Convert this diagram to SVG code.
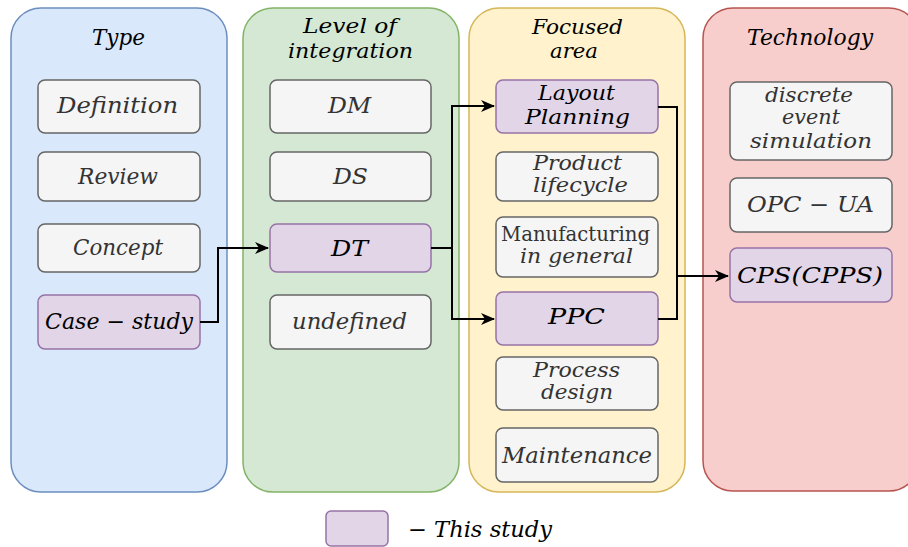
<svg xmlns="http://www.w3.org/2000/svg" width="908" height="547" viewBox="0 0 908 547">
<style>
.t{font-family:"DejaVu Serif","Liberation Serif",serif;font-style:italic;font-size:22px;fill:#000;text-anchor:start}
.s{font-size:20px}
.g{fill:#333333}
.r{font-style:normal}
.box{fill:#f5f5f5;stroke:#666666;stroke-width:1.5}
.pur{fill:#e1d5e7;stroke:#9673a6;stroke-width:1.5}
.con{fill:none;stroke:#000;stroke-width:2}
</style>
<defs>
<marker id="arr" viewBox="0 0 14 12" refX="13" refY="6" markerWidth="14" markerHeight="12" markerUnits="userSpaceOnUse" orient="auto">
<path d="M0,0 L14,6 L0,12 L4,6 Z" fill="#000"/>
</marker>
</defs>
<rect width="908" height="547" fill="#fff"/>
<g id="col-type">
<rect x="11" y="8" width="216" height="484" rx="30" fill="#dae8fc" stroke="#6c8ebf" stroke-width="1.5"/>
<text class="t" x="92" y="45" textLength="53" lengthAdjust="spacingAndGlyphs">Type</text>
</g>
<g id="col-level">
<rect x="243" y="8" width="216" height="484" rx="30" fill="#d5e8d4" stroke="#82b366" stroke-width="1.5"/>
<text class="t s" x="303" y="33" textLength="94" lengthAdjust="spacingAndGlyphs">Level of</text>
<text class="t s" x="288" y="58" textLength="125" lengthAdjust="spacingAndGlyphs">integration</text>
</g>
<g id="col-focus">
<rect x="469" y="8" width="216" height="484" rx="30" fill="#fff2cc" stroke="#d6b656" stroke-width="1.5"/>
<text class="t s" x="532" y="34" textLength="91" lengthAdjust="spacingAndGlyphs">Focused</text>
<text class="t s" x="550" y="58" textLength="48" lengthAdjust="spacingAndGlyphs">area</text>
</g>
<g id="col-tech">
<rect x="703" y="8" width="216" height="483" rx="30" fill="#f8cecc" stroke="#b85450" stroke-width="1.5"/>
<text class="t" x="747" y="45" textLength="126" lengthAdjust="spacingAndGlyphs">Technology</text>
</g>

<g id="n-definition"><rect class="box" x="38" y="80" width="162" height="53" rx="7"/><text class="t g" x="57" y="113" textLength="121" lengthAdjust="spacingAndGlyphs">Definition</text></g>
<g id="n-review"><rect class="box" x="38" y="152" width="162" height="49" rx="7"/><text class="t g" x="78" y="184" textLength="80" lengthAdjust="spacingAndGlyphs">Review</text></g>
<g id="n-concept"><rect class="box" x="38" y="224" width="162" height="48" rx="7"/><text class="t g" x="73" y="255" textLength="90" lengthAdjust="spacingAndGlyphs">Concept</text></g>
<g id="n-casestudy"><rect class="pur" x="38" y="295" width="162" height="54" rx="7"/><text class="t" x="45" y="329" textLength="148" lengthAdjust="spacingAndGlyphs">Case − study</text></g>

<g id="n-dm"><rect class="box" x="270" y="80" width="161" height="53" rx="7"/><text class="t g" x="328" y="113" textLength="43" lengthAdjust="spacingAndGlyphs">DM</text></g>
<g id="n-ds"><rect class="box" x="270" y="152" width="161" height="49" rx="7"/><text class="t g" x="333" y="184" textLength="35" lengthAdjust="spacingAndGlyphs">DS</text></g>
<g id="n-dt"><rect class="pur" x="270" y="224" width="161" height="48" rx="7"/><text class="t" x="331" y="256" textLength="37" lengthAdjust="spacingAndGlyphs">DT</text></g>
<g id="n-undefined"><rect class="box" x="270" y="295" width="161" height="54" rx="7"/><text class="t g" x="292" y="329" textLength="115" lengthAdjust="spacingAndGlyphs">undefined</text></g>

<g id="n-layout"><rect class="pur" x="496" y="80" width="162" height="53" rx="7"/><text class="t s" x="538" y="100" textLength="77" lengthAdjust="spacingAndGlyphs">Layout</text><text class="t s" x="525" y="124" textLength="105" lengthAdjust="spacingAndGlyphs">Planning</text></g>
<g id="n-product"><rect class="box" x="496" y="152" width="162" height="49" rx="7"/><text class="t g s" x="533" y="170" textLength="89" lengthAdjust="spacingAndGlyphs">Product</text><text class="t g s" x="533" y="192" textLength="95" lengthAdjust="spacingAndGlyphs">lifecycle</text></g>
<g id="n-manufacturing"><rect class="box" x="496" y="217" width="162" height="60" rx="7"/><text class="t g r s" x="501" y="241" textLength="149" lengthAdjust="spacingAndGlyphs">Manufacturing</text><text class="t g s" x="520" y="263" textLength="113" lengthAdjust="spacingAndGlyphs">in general</text></g>
<g id="n-ppc"><rect class="pur" x="496" y="292" width="162" height="53" rx="7"/><text class="t" x="548" y="324" textLength="57" lengthAdjust="spacingAndGlyphs">PPC</text></g>
<g id="n-process"><rect class="box" x="496" y="357" width="162" height="53" rx="7"/><text class="t g s" x="533" y="377" textLength="87" lengthAdjust="spacingAndGlyphs">Process</text><text class="t g s" x="541" y="399" textLength="72" lengthAdjust="spacingAndGlyphs">design</text></g>
<g id="n-maintenance"><rect class="box" x="496" y="428" width="162" height="54" rx="7"/><text class="t g" x="502" y="463" textLength="150" lengthAdjust="spacingAndGlyphs">Maintenance</text></g>

<g id="n-des"><rect class="box" x="730" y="82" width="162" height="78" rx="7"/><text class="t g s" x="765" y="102" textLength="88" lengthAdjust="spacingAndGlyphs">discrete</text><text class="t g s" x="782" y="124" textLength="58" lengthAdjust="spacingAndGlyphs">event</text><text class="t g s" x="750" y="148" textLength="122" lengthAdjust="spacingAndGlyphs">simulation</text></g>
<g id="n-opcua"><rect class="box" x="730" y="178" width="162" height="54" rx="7"/><text class="t g" x="747" y="212" textLength="127" lengthAdjust="spacingAndGlyphs">OPC − UA</text></g>
<g id="n-cps"><rect class="pur" x="730" y="248" width="162" height="54" rx="7"/><text class="t" x="737" y="283" textLength="146" lengthAdjust="spacingAndGlyphs">CPS(CPPS)</text></g>

<g id="legend">
<rect class="pur" x="326" y="511" width="62" height="35" rx="5"/>
<text class="t" x="408" y="537" textLength="144" lengthAdjust="spacingAndGlyphs">− This study</text>
</g>

<g id="connectors">
<path class="con" d="M200,322 H218 V248 H268" marker-end="url(#arr)"/>
<path class="con" d="M431,248 H452 V106 H494" marker-end="url(#arr)"/>
<path class="con" d="M452,248 V319 H494" marker-end="url(#arr)"/>
<path class="con" d="M658,107 H677 V276 H728" marker-end="url(#arr)"/>
<path class="con" d="M658,319 H677 V276"/>
</g>
</svg>
